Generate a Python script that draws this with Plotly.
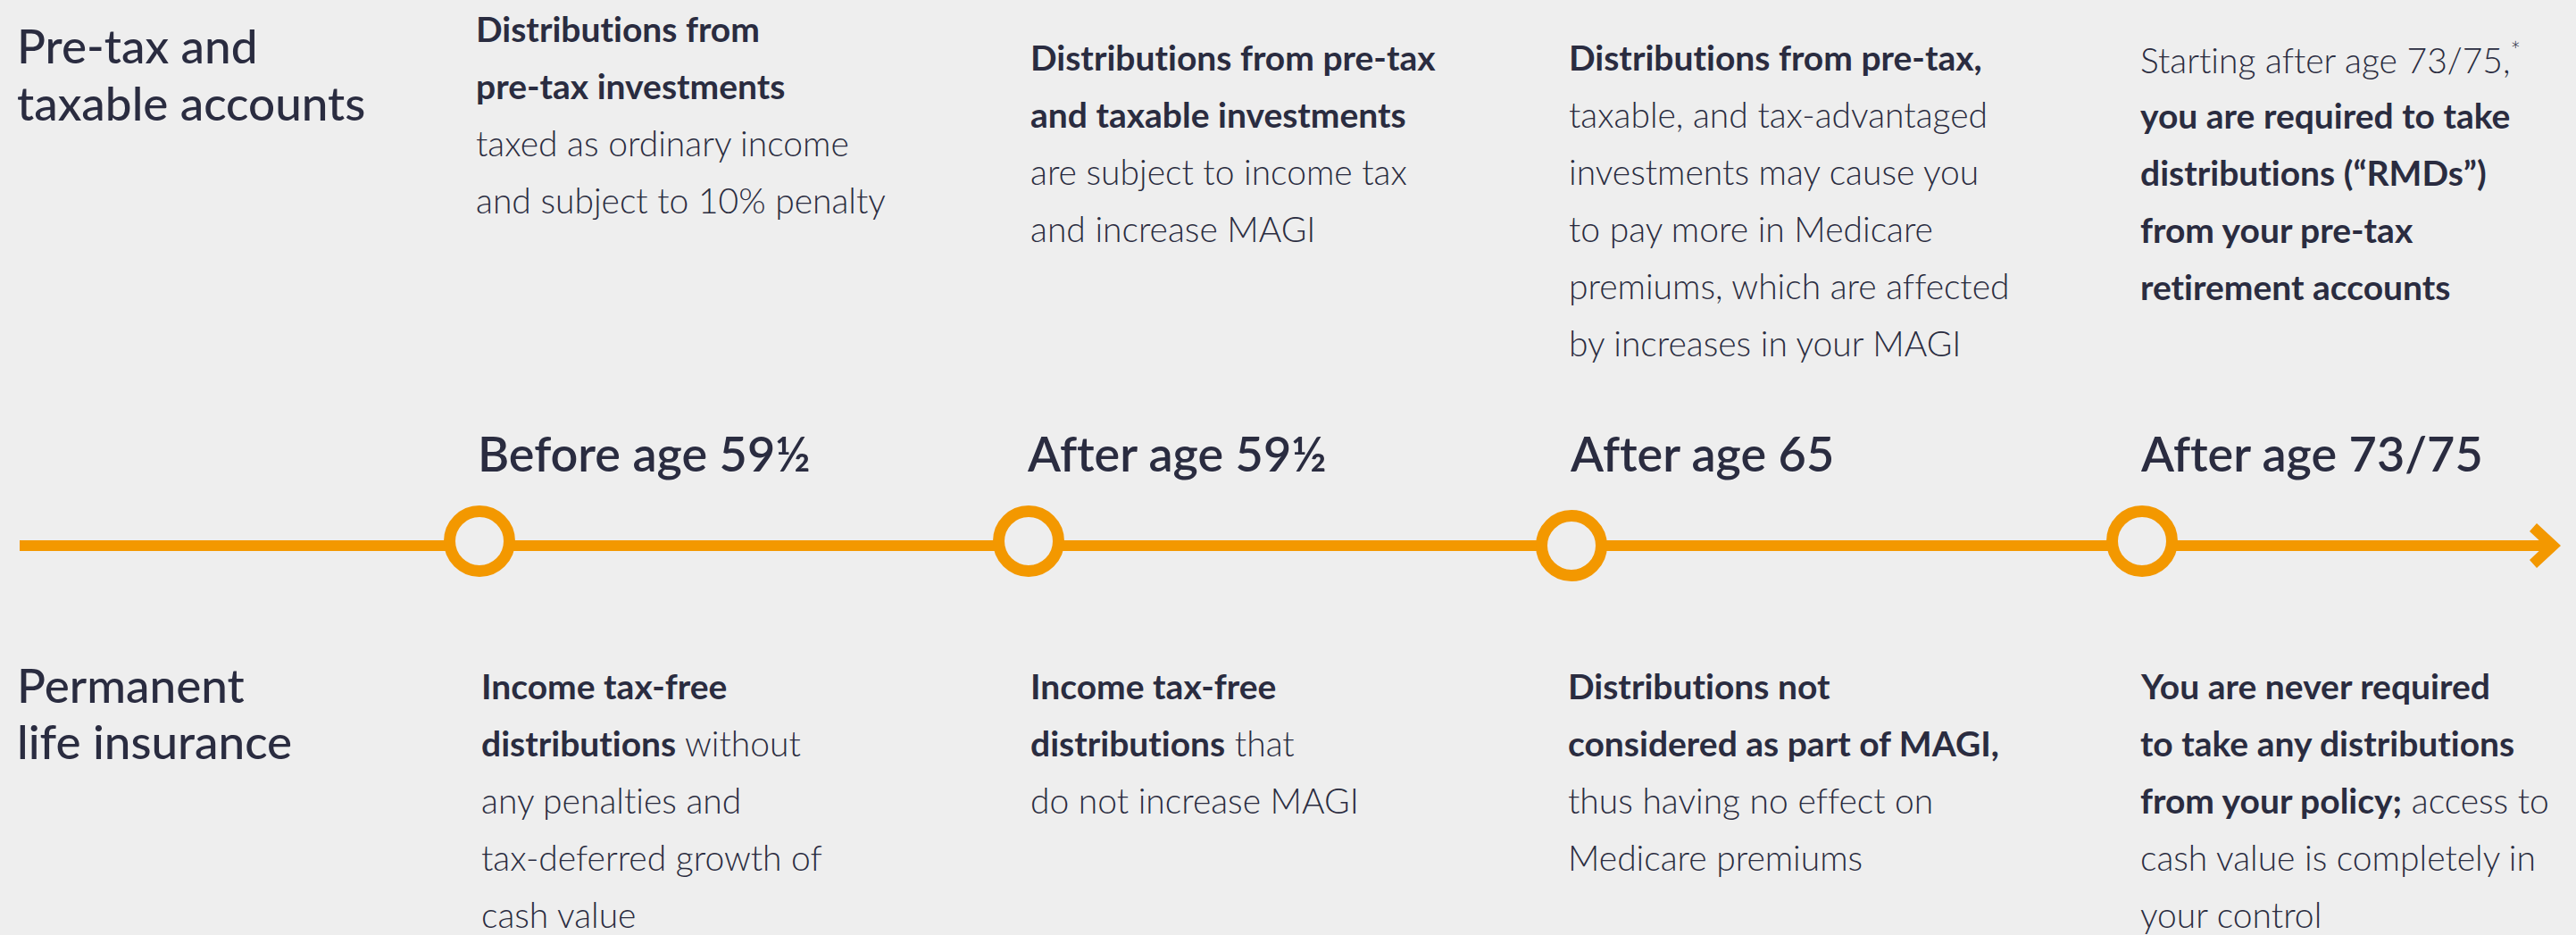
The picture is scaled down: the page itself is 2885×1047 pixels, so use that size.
import plotly.graph_objects as go

# ---------------- data ----------------
row_labels = [["Pre-tax and", "taxable accounts"], ["Permanent", "life insurance"]]
milestones = ["Before age 59½", "After age 59½", "After age 65", "After age 73/75"]

pretax_text = [
    ["<b>Distributions from</b>", "<b>pre-tax investments</b>",
     "taxed as ordinary income", "and subject to 10% penalty"],
    ["<b>Distributions from pre-tax</b>", "<b>and taxable investments</b>",
     "are subject to income tax", "and increase MAGI"],
    ["<b>Distributions from pre-tax,</b>", "taxable, and tax-advantaged",
     "investments may cause you", "to pay more in Medicare",
     "premiums, which are affected", "by increases in your MAGI"],
    ["Starting after age 73/75,<sup>*</sup>", "<b>you are required to take</b>",
     "<b>distributions (“RMDs”)</b>", "<b>from your pre-tax</b>",
     "<b>retirement accounts</b>"],
]
life_text = [
    ["<b>Income tax-free</b>", "<b>distributions</b> without", "any penalties and",
     "tax-deferred growth of", "cash value"],
    ["<b>Income tax-free</b>", "<b>distributions</b> that", "do not increase MAGI"],
    ["<b>Distributions not</b>", "<b>considered as part of MAGI,</b>",
     "thus having no effect on", "Medicare premiums"],
    ["<b>You are never required</b>", "<b>to take any distributions</b>",
     "<b>from your policy;</b> access to", "cash value is completely in",
     "your control"],
]

# ---------------- layout constants (pixels) ----------------
W, H = 2885, 1047
BG = "#EEEEEE"
INK = "#2A2C40"
ORANGE = "#F39800"
FONT = "Lato"

col_x = [537, 1152, 1760, 2399]          # milestone circle positions
top_x = [533, 1154, 1757, 2397]
bottom_x = [539, 1154, 1756, 2397]
circle_y = [606, 606, 611, 606]
line_y = 611
line_x0, line_x1 = 22, 2868
label_x = 19

top_first_baseline = [47, 79, 79, 80]
bottom_first_baseline = 783
line_gap = 64
row_label_baselines = [[71, 135], [787, 850]]
milestone_baseline = 528

FS_BODY = 39
FS_ROW = 53
FS_MILE = 54
K = 0.387  # baseline -> middle offset (em)

fig = go.Figure()

# timeline line
fig.add_trace(go.Scatter(
    x=[line_x0, line_x1 - 10], y=[line_y, line_y], mode="lines",
    line=dict(color=ORANGE, width=12), hoverinfo="skip", showlegend=False))

# arrow head (chevron) at end of line
t = line_x1
fig.add_shape(
    type="path",
    path=(f"M {t-35},{line_y-16} L {t-27},{line_y-25} L {t},{line_y} "
          f"L {t-27},{line_y+25} L {t-35},{line_y+16} L {t-18},{line_y} Z"),
    fillcolor=ORANGE, line=dict(width=0), layer="above")

# milestone circles
fig.add_trace(go.Scatter(
    x=col_x, y=circle_y, mode="markers",
    marker=dict(size=67, color=BG, line=dict(color=ORANGE, width=13)),
    text=milestones, hoverinfo="text", showlegend=False))


def add_line(x, baseline, text, size, weight):
    fig.add_annotation(
        x=x, y=baseline - K * size, xref="x", yref="y",
        text=text, showarrow=False, xanchor="left", yanchor="middle",
        align="left", borderpad=0, borderwidth=0,
        font=dict(family=FONT, size=size, color=INK, weight=weight))


# row labels
for lines, bases in zip(row_labels, row_label_baselines):
    for txt, b in zip(lines, bases):
        add_line(label_x, b, txt, FS_ROW, 500)

# milestone labels
for x, m in zip(col_x, milestones):
    add_line(x - 2, milestone_baseline, m, FS_MILE, 600)

# top (pre-tax) texts
for x, lines, b0 in zip(top_x, pretax_text, top_first_baseline):
    for i, txt in enumerate(lines):
        add_line(x, b0 + i * line_gap, txt, FS_BODY, 300)

# bottom (life insurance) texts
for x, lines in zip(bottom_x, life_text):
    for i, txt in enumerate(lines):
        add_line(x, bottom_first_baseline + i * line_gap, txt, FS_BODY, 300)

fig.update_layout(
    width=W, height=H, margin=dict(l=0, r=0, t=0, b=0),
    paper_bgcolor=BG, plot_bgcolor=BG,
    xaxis=dict(range=[0, W], visible=False, fixedrange=True),
    yaxis=dict(range=[H, 0], visible=False, fixedrange=True),
    font=dict(family=FONT, color=INK),
)

post = (
    "document.body.style.margin='0';document.body.style.overflow='hidden';"
    "var s=document.createElement('style');"
    "s.textContent='text, tspan {font-variant-ligatures: none !important; "
    "font-feature-settings: \"liga\" 0, \"clig\" 0 !important;}';"
    "document.head.appendChild(s);"
)
fig.write_html("out.html", include_plotlyjs=True,
               config={"displayModeBar": False}, post_script=post)
